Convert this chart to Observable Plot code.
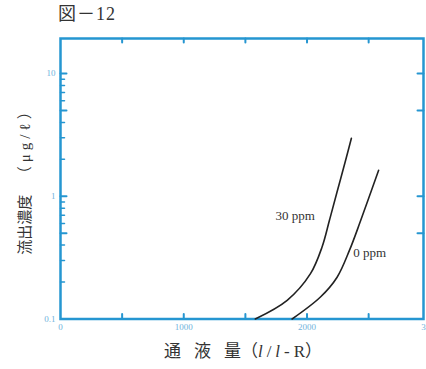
<!DOCTYPE html>
<html><head><meta charset="utf-8">
<script src="https://cdn.jsdelivr.net/npm/d3@7"></script>
<script src="https://cdn.jsdelivr.net/npm/@observablehq/plot@0.6"></script>
<style>
body{margin:0;background:#fff;width:426px;height:369px;overflow:hidden;font-family:"Liberation Serif","DejaVu Serif","Noto Sans CJK JP",serif;}
#title{height:26px;box-sizing:border-box;padding:4px 0 0 58px;line-height:20px;font-size:18px;color:#333;letter-spacing:1px;}
#xlabel{height:25px;line-height:16px;font-size:17px;color:#333;text-align:center;padding:0 0 0 60px;box-sizing:border-box;width:426px;}
#xlabel .g{margin-right:13px}
#xlabel .u{letter-spacing:4px}
svg{display:block}
</style></head><body>
<div id="title">図－12</div>
<div id="chart"></div>
<div id="xlabel"><span class="g">通</span><span class="g">液</span>量（<span class="u"><i>l</i>/<i>l</i>-</span>R）</div>
<script>
// Series: 30 ppm
const x30 = [1580, 1839, 2028, 2122, 2182, 2243, 2311, 2360];
const y30 = [0.1, 0.142, 0.234, 0.386, 0.637, 1.078, 1.93, 2.97];
// Series: 0 ppm
const x0 = [1879, 2109, 2244, 2344, 2433, 2581];
const y0 = [0.1, 0.151, 0.219, 0.362, 0.625, 1.63];
// Curve labels
const labelText = ["30 ppm", "0 ppm"];
const labelX = [1744, 2376];
const labelY = [0.687, 0.343];
// Axis ticks
const xTickLabels = [0, 1000, 2000, 3000];
const xTicks = [500, 1000, 1500, 2000, 2500];
const yTickLabels = [0.1, 0.5, 1, 5, 10];
const yMajor = [0.5, 1, 5, 10];
const yMinor = [0.2, 0.3, 0.4, 0.6, 0.7, 0.8, 0.9, 2, 3, 4, 6, 7, 8, 9];
const yLabelA = "流出濃度";
const yLabelB = "（μg/ℓ）";

const blue = "#2596d1";
const light = "#6fb3dc";
const font = "'Liberation Serif','DejaVu Serif','Noto Sans CJK JP',serif";

const series = [
  ...x30.map((x, i) => ({x, y: y30[i], s: "30"})),
  ...x0.map((x, i) => ({x, y: y0[i], s: "0"}))
];
const labels = labelText.map((t, i) => ({t, x: labelX[i], y: labelY[i]}));

const tick = {draw(context, l) { context.moveTo(0, 0); context.lineTo(0, -l); }};
const tickV = (data, key, anchor, rotate, length, sw) =>
  Plot.vector(data, {[key]: d => d, frameAnchor: anchor, rotate, length, anchor: "start", shape: tick, stroke: blue, strokeWidth: sw});

const plot = Plot.plot({
  width: 426,
  height: 318,
  marginTop: 12,
  marginBottom: 25.5,
  marginLeft: 60,
  marginRight: 3,
  style: {fontFamily: font, background: "#fff"},
  x: {domain: [0, 2945], label: null},
  y: {type: "log", domain: [0.1, 19.3], label: null},
  marks: [
    tickV(xTicks, "x", "bottom", 0, 5, 2),
    tickV(xTicks, "x", "top", 180, 4, 2),
    tickV(yMajor, "y", "left", 90, 6, 2),
    tickV(yMinor, "y", "left", 90, 4, 1.5),
    tickV(yMajor, "y", "right", 270, 6, 2),
    Plot.frame({stroke: blue, strokeWidth: 2.5}),
    Plot.axisX(xTickLabels, {anchor: "bottom", tickSize: 0, tickPadding: 5, fontSize: 9, fill: light, tickFormat: d => String(d)}),
    Plot.axisY(yTickLabels, {anchor: "left", tickSize: 0, tickPadding: 5, fontSize: 9, fill: light, tickFormat: d => String(d)}),
    Plot.line(series, {x: "x", y: "y", z: "s", stroke: "#222", strokeWidth: 1.6, curve: "catmull-rom"}),
    Plot.text(labels, {x: "x", y: "y", text: "t", textAnchor: "start", fontSize: 13, fill: "#333", fontFamily: font}),
    Plot.text([yLabelA], {frameAnchor: "left", textAnchor: "middle", dx: -35, dy: 46, rotate: -90, fontSize: 15, fill: "#333", fontFamily: font}),
    Plot.text([yLabelB], {frameAnchor: "left", textAnchor: "middle", dx: -35, dy: -38, rotate: -90, fontSize: 15, fill: "#333", fontFamily: font})
  ]
});
d3.select(plot).selectAll("text").filter(function() { return this.textContent === yLabelB; }).style("letter-spacing", "4px");
document.getElementById("chart").appendChild(plot);
</script>
</body></html>
